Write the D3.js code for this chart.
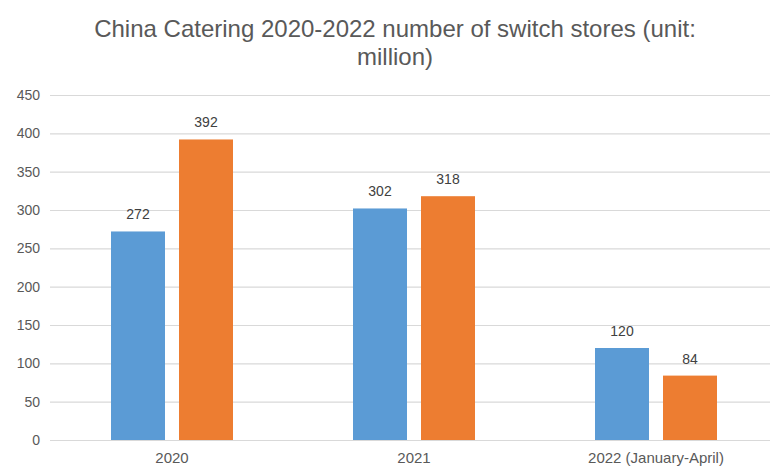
<!DOCTYPE html>
<html><head><meta charset="utf-8">
<script src="https://cdn.jsdelivr.net/npm/d3@7"></script>
<style>body{margin:0;background:#fff;}svg{display:block;font-family:"Liberation Sans",Arial,sans-serif;}</style>
</head><body>
<svg id="c" width="770" height="470"></svg>
<script>
const categories = ["2020", "2021", "2022 (January-April)"];
const seriesA = [272, 302, 120];
const seriesB = [392, 318, 84];
const yTicks = [0, 50, 100, 150, 200, 250, 300, 350, 400, 450];
const titleLines = ["China Catering 2020-2022 number of switch stores (unit:", "million)"];
const colors = ["#5B9BD5", "#ED7D31"];

const svg = d3.select("#c");
const x = d3.scaleBand().domain(categories).range([51, 777]).paddingInner(0).paddingOuter(0);
const y = d3.scaleLinear().domain([0, 450]).range([440, 95]);
const barW = 54, gap = 14;

svg.append("g").selectAll("text").data(titleLines).join("text")
  .attr("x", 395).attr("y", (d, i) => 37 + i * 28)
  .attr("text-anchor", "middle").attr("font-size", 24).attr("fill", "#595959").text(d => d);

const yAxis = d3.axisLeft(y).tickValues(yTicks).tickSize(-730).tickPadding(10);
const gy = svg.append("g").attr("transform", "translate(50,0)").call(yAxis);
gy.select(".domain").remove();
gy.selectAll(".tick line").attr("stroke", "#d9d9d9").attr("stroke-width", 1.2);
gy.selectAll(".tick text").attr("font-size", 14).attr("fill", "#595959").attr("font-family", "Liberation Sans, Arial, sans-serif");

const xAxis = d3.axisBottom(x).tickSize(0).tickPadding(12);
const gx = svg.append("g").attr("transform", "translate(0,440)").call(xAxis);
gx.select(".domain").remove();
gx.selectAll(".tick text").attr("font-size", 15).attr("fill", "#595959").attr("font-family", "Liberation Sans, Arial, sans-serif");

const series = [seriesA, seriesB];
series.forEach((vals, si) => {
  const off = si === 0 ? -(gap / 2 + barW) : gap / 2;
  const g = svg.append("g");
  g.selectAll("rect").data(vals).join("rect")
    .attr("x", (d, i) => x(categories[i]) + x.bandwidth() / 2 + off)
    .attr("y", d => y(d)).attr("width", barW).attr("height", d => y(0) - y(d))
    .attr("fill", colors[si]);
  g.selectAll("text").data(vals).join("text")
    .attr("x", (d, i) => x(categories[i]) + x.bandwidth() / 2 + off + barW / 2)
    .attr("y", d => y(d) - 12).attr("text-anchor", "middle")
    .attr("font-size", 14).attr("fill", "#404040").text(d => d);
});
</script>
</body></html>
